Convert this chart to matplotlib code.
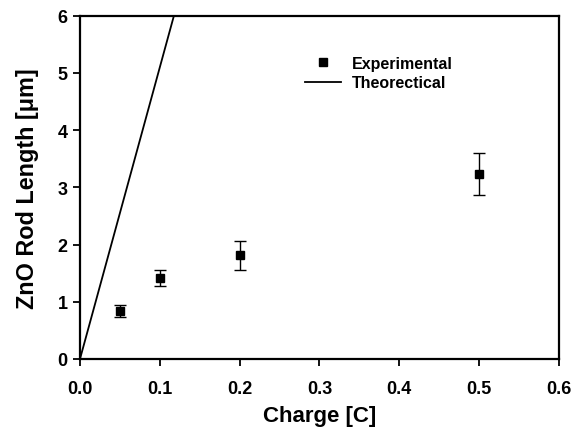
import matplotlib
matplotlib.use("Agg")
import matplotlib.pyplot as plt

plt.rcParams['font.family'] = ['Liberation Sans', 'DejaVu Sans']
plt.rcParams['font.weight'] = 'bold'

# Experimental data
charge = [0.05, 0.1, 0.2, 0.5]
length = [0.84, 1.42, 1.81, 3.23]
length_err = [0.10, 0.14, 0.25, 0.37]

# Theoretical line (clipped by axes)
theo_charge = [0.0, 0.2]
theo_length = [0.0, 10.2]

x_ticks = [0.0, 0.1, 0.2, 0.3, 0.4, 0.5, 0.6]
y_ticks = [0, 1, 2, 3, 4, 5, 6]

fig = plt.figure(figsize=(5.84, 4.31), dpi=100)
ax = fig.add_axes([0.137, 0.165, 0.82, 0.796])

eb = ax.errorbar(charge, length, yerr=length_err, fmt='s', color='black',
                 markersize=6, ecolor='black', elinewidth=1, capsize=4,
                 capthick=1)
theo, = ax.plot(theo_charge, theo_length, color='black', linewidth=1.3)

ax.set_xlim(0, 0.6)
ax.set_ylim(0, 6)
ax.set_xticks(x_ticks)
ax.set_xticklabels(['%.1f' % v for v in x_ticks])
ax.set_yticks(y_ticks)
ax.tick_params(direction='out', length=5, width=1.3, labelsize=13)
ax.tick_params(axis='x', pad=10)
ax.tick_params(axis='y', pad=4)
for lab in ax.get_xticklabels() + ax.get_yticklabels():
    lab.set_fontweight('bold')
for sp in ax.spines.values():
    sp.set_linewidth(1.6)

ax.set_xlabel('Charge [C]', fontsize=16, fontweight='bold', labelpad=6)
ax.set_ylabel('ZnO Rod Length [μm]', fontsize=16.8, fontweight='bold', labelpad=13)

# Legend: marker only for experimental, plain line for theory
leg = ax.legend([eb[0], theo], ['Experimental', 'Theorectical'],
                loc='upper left', bbox_to_anchor=(0.453, 0.907),
                frameon=False, fontsize=11.5, handlelength=2.25,
                handletextpad=0.7, borderpad=0, labelspacing=0.3)
for t in leg.get_texts():
    t.set_fontweight('bold')

fig.savefig('out.png', dpi=100)
